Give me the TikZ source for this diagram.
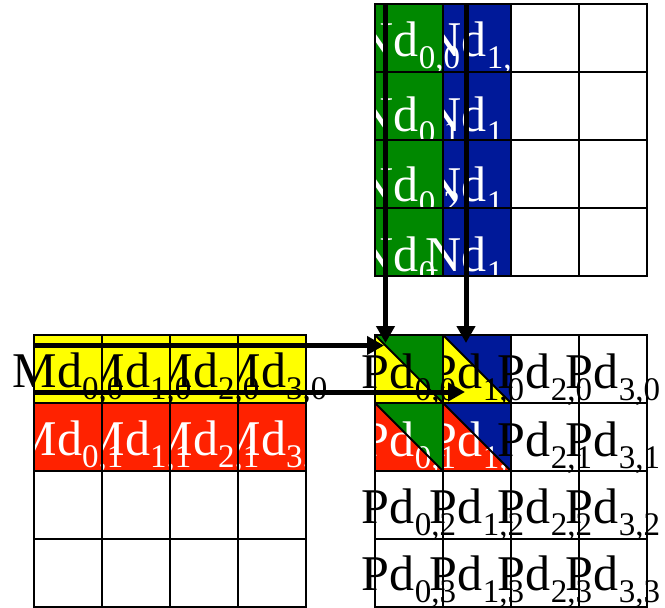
\documentclass[tikz,border=0pt]{standalone}
\usepackage{fontspec}
\setmainfont{Liberation Serif}
\usetikzlibrary{arrows.meta}
\definecolor{cgreen}{RGB}{0,136,0}
\definecolor{cblue}{RGB}{0,25,153}
\definecolor{cred}{RGB}{255,34,0}
\definecolor{cyellow}{RGB}{255,255,0}
\newcommand\lbl[2]{#1\raisebox{-12pt}{\fontsize{33}{33}\selectfont #2}}
\newcommand\tricell[4]{% x, y, upper colour, lower colour
  \fill[#3] (#1,#2) -- ++(68,0) -- ++(0,68) -- cycle;
  \fill[#4] (#1,#2) -- ++(0,68) -- ++(68,0) -- cycle;}
\begin{document}
\begin{tikzpicture}[x=1pt,y=-1pt,
  lab/.style={anchor=base, inner sep=0pt, font=\fontsize{50}{50}\selectfont},
  gridline/.style={draw=black, line width=1.8pt, line cap=rect},
  arr/.style={line width=5pt, -{Triangle[length=17pt,width=18pt]}}]
\useasboundingbox (0,0) rectangle (665,608);

% ---------- Nd matrix ----------
\foreach \r/\b in {0/56,1/131,2/201} {
  \fill[cblue] (443,4+68*\r) rectangle ++(68,68);
  \node[lab,text=white] (nb\r) at (477,\b) {\lbl{Nd}{1,\r}};
  \fill[cgreen] (375,4+68*\r) rectangle ++(68,68);
  \node[lab,text=white] (ng\r) at (409,\b) {\lbl{Nd}{0,\r}};
}
\fill[cgreen] (375,208) rectangle ++(68,68);
\node[lab,text=white] (ng3) at (409,271) {\lbl{Nd}{0,3}};
\fill[cblue] (443,208) rectangle ++(68,68);
\node[lab,text=white] (nb3) at (477,271) {\lbl{Nd}{1,3}};
\foreach \i in {0,...,4} {
  \draw[gridline] (375+68*\i,4) -- (375+68*\i,276);
  \draw[gridline] (375,4+68*\i) -- (647,4+68*\i);
}

% ---------- Md matrix ----------
\foreach \c in {3,2,1,0} {
  \fill[cyellow] (34+68*\c,335) rectangle ++(68,68);
  \node[lab] (my\c) at (68+68*\c,387) {\lbl{Md}{\c,0}};
}
\foreach \c in {3,2,1,0} {
  \fill[cred] (34+68*\c,403) rectangle ++(68,68);
  \node[lab,text=white] (mr\c) at (68+68*\c,455) {\lbl{Md}{\c,1}};
}
\foreach \i in {0,...,4} {
  \draw[gridline] (34+68*\i,335) -- (34+68*\i,607);
  \draw[gridline] (34,335+68*\i) -- (306,335+68*\i);
}

% ---------- Pd matrix ----------
\tricell{443}{335}{cblue}{cyellow}
\node[lab] (p10) at (477,388) {\lbl{Pd}{1,0}};
\tricell{375}{335}{cgreen}{cyellow}
\node[lab] (p00) at (409,388) {\lbl{Pd}{0,0}};
\node[lab] (p20) at (545,388) {\lbl{Pd}{2,0}};
\node[lab] (p30) at (613,388) {\lbl{Pd}{3,0}};
\tricell{443}{403}{cblue}{cred}
\node[lab,text=white] (p11) at (477,456) {\lbl{Pd}{1,1}};
\tricell{375}{403}{cgreen}{cred}
\node[lab,text=white] (p01) at (409,456) {\lbl{Pd}{0,1}};
\node[lab] (p21) at (545,456) {\lbl{Pd}{2,1}};
\node[lab] (p31) at (613,456) {\lbl{Pd}{3,1}};
\foreach \c in {0,1,2,3} {
  \node[lab] (p\c2) at (409+68*\c,523) {\lbl{Pd}{\c,2}};
  \node[lab] (p\c3) at (409+68*\c,590) {\lbl{Pd}{\c,3}};
}
\foreach \x/\y in {375/335,443/335,375/403,443/403}
  \draw[line width=1.8pt] (\x,\y) -- ++(68,68);
\foreach \i in {0,...,4} {
  \draw[gridline] (375+68*\i,335) -- (375+68*\i,607);
  \draw[gridline] (375,335+68*\i) -- (647,335+68*\i);
}

% ---------- arrows ----------
\coordinate (va0) at (385.5,4);   \coordinate (vb0) at (385.5,343);
\coordinate (va1) at (466,4);     \coordinate (vb1) at (466,343);
\coordinate (ha0) at (34,345.5);  \coordinate (hb0) at (384,345.5);
\coordinate (ha1) at (34,392);    \coordinate (hb1) at (465,392);
\draw[arr] (va0) -- (vb0);
\draw[arr] (va1) -- (vb1);
\draw[arr] (ha0) -- (hb0);
\draw[arr] (ha1) -- (hb1);
\end{tikzpicture}
\end{document}
